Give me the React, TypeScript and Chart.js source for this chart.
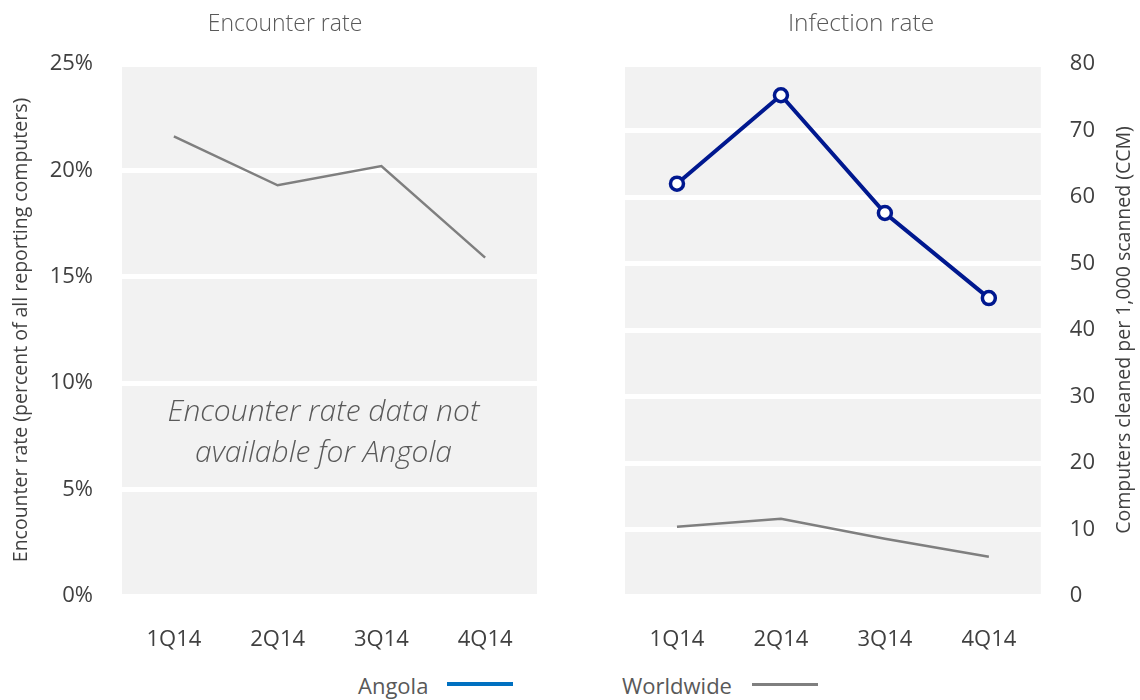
import React, { useEffect, useRef } from "react";
import { Chart, registerables } from "chart.js";

Chart.register(...registerables);

const quarters = ["1Q14", "2Q14", "3Q14", "4Q14"];
const encounterWorldwide = [21.6, 19.3, 20.2, 15.9];
const infectionAngola = [62.0, 75.3, 57.6, 44.8];
const infectionWorldwide = [10.4, 11.6, 8.6, 5.9];
const encounterTicks = [0, 5, 10, 15, 20, 25];
const infectionTicks = [0, 10, 20, 30, 40, 50, 60, 70, 80];

const FONT = "'Open Sans', 'Noto Sans', sans-serif";
const TICK_COLOR = "#404040";
const GREY = "#7f7f7f";
const NAVY = "#00188F";

const plotBg = {
  id: "plotBg",
  beforeDraw(chart: any) {
    const { ctx, chartArea } = chart;
    if (!chartArea) return;
    ctx.save();
    ctx.fillStyle = "#f2f2f2";
    ctx.fillRect(chartArea.left, chartArea.top, chartArea.width, chartArea.height);
    ctx.restore();
  },
};

const noteText = {
  id: "noteText",
  beforeDatasetsDraw(chart: any) {
    const { ctx, chartArea } = chart;
    if (!chartArea) return;
    const cx = (chartArea.left + chartArea.right) / 2 - 6;
    ctx.save();
    ctx.fillStyle = "#595959";
    ctx.font = `italic 300 30px ${FONT}`;
    ctx.textAlign = "center";
    ctx.textBaseline = "middle";
    const y0 = chartArea.top + chartArea.height * 0.655;
    ctx.fillText("Encounter rate data not", cx, y0);
    ctx.fillText("available for Angola", cx, y0 + 41);
    ctx.restore();
  },
};

const rightTitle = {
  id: "rightTitle",
  afterDraw(chart: any) {
    const { ctx, chartArea } = chart;
    if (!chartArea) return;
    ctx.save();
    ctx.fillStyle = TICK_COLOR;
    ctx.font = `19.5px ${FONT}`;
    ctx.textAlign = "center";
    ctx.textBaseline = "middle";
    ctx.translate(chart.width - 16, (chartArea.top + chartArea.bottom) / 2);
    ctx.rotate(-Math.PI / 2);
    ctx.fillText("Computers cleaned per 1,000 scanned (CCM)", 0, 0);
    ctx.restore();
  },
};

function LeftChart() {
  const ref = useRef<HTMLCanvasElement>(null);
  useEffect(() => {
    if (!ref.current) return;
    const chart = new Chart(ref.current, {
      type: "line",
      data: {
        labels: quarters,
        datasets: [
          {
            label: "Worldwide",
            data: encounterWorldwide,
            borderColor: GREY,
            borderWidth: 2.5,
            pointRadius: 0,
            tension: 0,
            fill: false,
          },
        ],
      },
      options: {
        responsive: false,
        animation: false,
        layout: { padding: { top: 64, right: 33, left: 0, bottom: 0 } },
        plugins: { legend: { display: false }, tooltip: { enabled: false }, title: { display: false } },
        scales: {
          x: {
            offset: true,
            grid: { display: false },
            border: { display: false },
            ticks: { color: TICK_COLOR, font: { size: 22, family: FONT }, padding: 23 },
            afterFit: (s: any) => {
              s.height = 64;
            },
          },
          y: {
            min: 0,
            max: 25,
            afterBuildTicks: (s: any) => {
              s.ticks = encounterTicks.map((v) => ({ value: v }));
            },
            ticks: {
              color: TICK_COLOR,
              font: { size: 22, family: FONT },
              padding: 29,
              callback: (v: any) => v + "%",
            },
            grid: { color: "#ffffff", lineWidth: 5, drawTicks: false },
            border: { display: false },
            title: {
              display: true,
              text: "Encounter rate (percent of all reporting computers)",
              color: TICK_COLOR,
              font: { size: 19.5, family: FONT },
              padding: { top: 10, bottom: 0 },
            },
            afterFit: (s: any) => {
              s.width = 122;
            },
          },
        },
      },
      plugins: [plotBg, noteText],
    } as any);
    return () => chart.destroy();
  }, []);
  return <canvas ref={ref} width={570} height={660} style={{ position: "absolute", left: 0, top: 0, width: 570, height: 660 }} />;
}

function RightChart() {
  const ref = useRef<HTMLCanvasElement>(null);
  useEffect(() => {
    if (!ref.current) return;
    const chart = new Chart(ref.current, {
      type: "line",
      data: {
        labels: quarters,
        datasets: [
          {
            label: "Angola",
            data: infectionAngola,
            borderColor: NAVY,
            borderWidth: 4,
            pointRadius: 6.5,
            pointBorderWidth: 3.5,
            pointBackgroundColor: "#ffffff",
            pointBorderColor: NAVY,
            tension: 0,
            fill: false,
          },
          {
            label: "Worldwide",
            data: infectionWorldwide,
            borderColor: GREY,
            borderWidth: 2.5,
            pointRadius: 0,
            tension: 0,
            fill: false,
          },
        ],
      },
      options: {
        responsive: false,
        animation: false,
        layout: { padding: { top: 64, right: 16, left: 55, bottom: 0 } },
        plugins: { legend: { display: false }, tooltip: { enabled: false }, title: { display: false } },
        scales: {
          x: {
            offset: true,
            grid: { display: false },
            border: { display: false },
            ticks: { color: TICK_COLOR, font: { size: 22, family: FONT }, padding: 23 },
            afterFit: (s: any) => {
              s.height = 64;
            },
          },
          y: {
            position: "right",
            min: 0,
            max: 80,
            afterBuildTicks: (s: any) => {
              s.ticks = infectionTicks.map((v) => ({ value: v }));
            },
            ticks: {
              color: TICK_COLOR,
              font: { size: 22, family: FONT },
              padding: 29,
            },
            grid: { color: "#ffffff", lineWidth: 5, drawTicks: false },
            border: { display: false },
          },
        },
      },
      plugins: [plotBg, rightTitle],
    } as any);
    return () => chart.destroy();
  }, []);
  return <canvas ref={ref} width={570} height={660} style={{ position: "absolute", left: 570, top: 0, width: 570, height: 660 }} />;
}

const titleStyle: React.CSSProperties = {
  position: "absolute",
  top: 6,
  width: 300,
  textAlign: "center",
  fontFamily: FONT,
  fontWeight: 300,
  fontSize: 23,
  lineHeight: "32px",
  color: "#595959",
  whiteSpace: "nowrap",
};

const legendText: React.CSSProperties = {
  position: "absolute",
  top: 671,
  fontFamily: FONT,
  fontSize: 22,
  lineHeight: "28px",
  color: "#595959",
  whiteSpace: "nowrap",
};

export default function App() {
  return (
    <div style={{ position: "fixed", left: 0, top: 0, width: 1140, height: 700, background: "#fff", overflow: "hidden" }}>
      <LeftChart />
      <RightChart />
      <div style={{ ...titleStyle, left: 285 - 150 }}>Encounter rate</div>
      <div style={{ ...titleStyle, left: 861 - 150, fontSize: 24.5 }}>Infection rate</div>
      <div style={{ ...legendText, left: 358 }}>Angola</div>
      <div style={{ position: "absolute", left: 447, top: 682, width: 66, height: 4, background: "#0070C0" }} />
      <div style={{ ...legendText, left: 622 }}>Worldwide</div>
      <div style={{ position: "absolute", left: 752, top: 683, width: 66, height: 3, background: GREY }} />
    </div>
  );
}
